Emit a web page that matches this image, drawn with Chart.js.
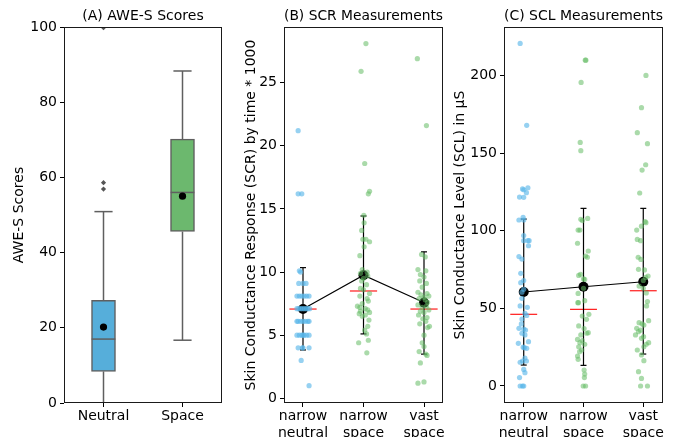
<!DOCTYPE html>
<html><head><meta charset="utf-8">
<script src="https://cdn.jsdelivr.net/npm/chart.js@4.4.1/dist/chart.umd.min.js"></script>
<style>
html,body{margin:0;padding:0;background:#fff;}
#wrap{position:relative;width:678px;height:437px;overflow:hidden;background:#fff;}
canvas{position:absolute;top:0;}
</style></head><body>
<div id="wrap">
<canvas id="cA" width="235" height="437" style="left:0px"></canvas>
<canvas id="cB" width="215" height="437" style="left:235px"></canvas>
<canvas id="cC" width="228" height="437" style="left:450px"></canvas>
</div>
<script>
// ---------- Panel A data (AWE-S box plot) ----------
const awesCategories = ['Neutral', 'Space'];
const awesWhiskerLow = [0, 16.7];
const awesQ1 = [8.4, 45.6];
const awesMedian = [17.0, 56.0];
const awesQ3 = [27.3, 70.2];
const awesWhiskerHigh = [50.9, 88.3];
const awesMean = [20.2, 55.0];
const awesOutliersNeutral = [56.9, 58.6, 99.8];
const awesOutliersSpace = [];
const awesTicks = [0, 20, 40, 60, 80, 100];

// ---------- Panels B/C categories ----------
const condCategories = [['narrow', 'neutral'], ['narrow', 'space'], ['vast', 'space']];

// ---------- Panel B data (SCR) ----------
const scrNarrowNeutral = [21.2, 16.2, 16.2, 10.1, 10.0, 9.1, 9.1, 9.1, 8.1, 8.1, 8.1, 8.1, 8.1, 8.1, 7.1, 7.1, 7.1, 7.1, 7.1, 7.1, 7.1, 7.1, 6.1, 6.1, 6.1, 6.1, 6.1, 6.1, 6.1, 5.0, 5.0, 5.0, 5.0, 5.0, 5.0, 5.0, 4.0, 4.0, 4.0, 4.0, 3.0, 1.0];
const scrNarrowNeutralJitter = [-0.08, -0.08, -0.02, -0.06, -0.04, -0.07, 0.05, 0.0, -0.1, -0.06, -0.02, 0.02, 0.06, 0.1, -0.1, -0.07, -0.04, -0.01, 0.02, 0.05, 0.08, 0.11, -0.08, -0.04, 0.0, 0.04, 0.08, 0.1, -0.1, -0.1, -0.06, -0.02, 0.02, 0.06, 0.1, 0.0, -0.08, -0.01, 0.1, 0.0, -0.03, 0.1];
const scrNarrowSpace = [28.1, 25.9, 18.6, 16.4, 16.2, 14.5, 13.9, 13.3, 12.6, 12.6, 12.4, 12.0, 11.3, 10.2, 10.0, 9.9, 9.7, 9.5, 9.3, 9.0, 8.7, 8.6, 8.3, 8.1, 7.9, 7.7, 7.5, 7.3, 7.2, 7.1, 7.0, 6.9, 6.8, 6.7, 6.6, 6.5, 6.2, 5.7, 5.4, 5.1, 4.6, 4.4, 3.6];
const scrNarrowSpaceJitter = [0.04, -0.04, 0.02, 0.1, 0.08, 0.005, 0.01, -0.03, -0.01, 0.04, 0.1, 0.01, -0.06, -0.02, 0.06, -0.05, 0.07, 0.0, -0.03, 0.05, -0.05, 0.0, 0.1, -0.06, 0.06, 0.08, -0.02, -0.1, -0.06, 0.03, 0.07, -0.05, 0.1, -0.07, 0.03, -0.02, 0.09, 0.07, 0.02, 0.05, 0.08, -0.08, 0.055];
const scrVastSpace = [26.9, 21.6, 11.4, 11.2, 10.2, 10.1, 9.8, 9.6, 9.3, 9.1, 8.8, 8.4, 8.3, 8.2, 8.1, 8.0, 7.9, 7.8, 7.6, 7.4, 7.3, 7.2, 7.0, 6.9, 6.8, 6.6, 6.4, 6.3, 6.1, 5.9, 5.7, 5.6, 5.0, 4.4, 4.1, 3.7, 3.5, 3.4, 2.8, 1.3, 1.2];
const scrVastSpaceJitter = [-0.11, 0.04, -0.04, 0.02, -0.1, 0.03, -0.06, 0.0, -0.07, 0.04, -0.03, -0.1, 0.05, -0.05, 0.08, 0.0, -0.08, 0.02, 0.06, -0.1, 0.04, -0.03, 0.08, -0.06, 0.0, -0.09, 0.05, -0.02, 0.03, -0.07, 0.09, 0.06, 0.0, -0.03, 0.0, -0.08, 0.03, 0.05, -0.06, 0.0, -0.1];
const scrMean = [7.07, 9.75, 7.58];
const scrErrLow = [3.83, 5.1, 3.5];
const scrErrHigh = [10.35, 14.44, 11.6];
const scrMedian = [7.07, 8.5, 7.07];
const scrTicks = [0, 5, 10, 15, 20, 25];

// ---------- Panel C data (SCL) ----------
const sclNarrowNeutral = [220.8, 168, 127.8, 127, 126.5, 124.6, 121.8, 121.6, 108.7, 107, 107, 97, 93.7, 93.7, 93.7, 90.4, 83.4, 81.8, 72.6, 68, 66.6, 62.3, 60.5, 56.5, 51.6, 50.7, 46.8, 45.5, 43.2, 40, 37.2, 36.7, 36.1, 34, 32.9, 28.6, 27.5, 25, 24.7, 24.3, 18, 16.1, 15.3, 16.1, 10.7, 8.6, 5.4, 0, 0, 0];
const sclNarrowNeutralJitter = [-0.06, 0.05, 0.07, -0.02, 0.0, 0.045, -0.07, 0.0, -0.01, -0.08, 0.0, 0.0, 0.0, 0.07, 0.09, 0.08, -0.08, -0.03, -0.05, 0.0, -0.05, 0.0, -0.03, -0.03, -0.06, 0.06, 0.02, 0.05, -0.03, -0.04, -0.08, 0.0, 0.03, -0.03, 0.02, 0.08, -0.09, -0.01, 0.01, 0.05, 0.02, -0.02, -0.06, 0.045, 0.0, 0.02, -0.07, -0.06, -0.02, 0.0];
const sclNarrowSpace = [210, 210, 195.7, 157, 151.7, 108, 107.4, 106.6, 100.5, 100.5, 92, 87, 83.8, 83, 72, 71.3, 69, 68.7, 63, 59.7, 55, 53.7, 53.7, 46.2, 45.1, 43, 38.7, 37, 34.4, 34, 32.9, 30, 29.2, 27.9, 26.9, 25.3, 23.2, 22.1, 19.3, 17.2, 10.3, 7.7, 5.4, 0, 0];
const sclNarrowSpaceJitter = [0.03, 0.04, -0.04, -0.055, -0.045, 0.07, -0.045, -0.02, -0.09, -0.06, -0.1, 0.08, 0.035, 0.065, -0.05, -0.08, 0.0, 0.02, 0.0, -0.09, 0.02, -0.095, -0.085, 0.09, -0.02, 0.05, -0.08, 0.01, 0.08, 0.055, -0.045, -0.1, -0.02, -0.06, 0.02, -0.08, -0.03, -0.065, -0.1, -0.09, 0.01, 0.02, 0.015, -0.005, 0.035];
const sclVastSpace = [200.2, 179.4, 163.3, 156.2, 142.6, 139.2, 124.4, 105.9, 105.3, 103, 100.5, 94.5, 93.7, 83, 81.6, 75.2, 74.8, 70.9, 70, 68, 64.4, 63, 60, 54.4, 51.6, 42.1, 40.8, 40, 39.3, 37.2, 36, 35, 32.9, 31.8, 30.7, 27.9, 26.9, 25.3, 23.2, 20, 16.3, 9.2, 4.9, 0, 0];
const sclVastSpaceJitter = [0.045, -0.03, -0.1, 0.07, 0.04, -0.02, -0.06, 0.03, 0.045, -0.03, -0.11, -0.1, -0.045, -0.085, -0.04, -0.08, 0.02, 0.08, 0.04, 0.0, -0.07, 0.0, 0.05, 0.07, 0.055, 0.09, -0.07, -0.02, 0.01, -0.11, -0.045, -0.08, -0.13, 0.005, -0.03, 0.09, 0.05, 0.01, -0.1, -0.03, 0.01, -0.08, -0.03, -0.045, 0.07];
const sclMean = [60.6, 64.0, 67.2];
const sclErrLow = [13.5, 13.3, 20.6];
const sclErrHigh = [107.6, 114.5, 114.5];
const sclMedian = [46.2, 49.4, 61.4];
const sclTicks = [0, 50, 100, 150, 200];

// ---------- styling ----------
const FONT = 'DejaVu Sans';
const FS = 14;
const TXT = '#000';
const BLUE = 'rgb(86,174,218)';
const GREEN = 'rgb(108,184,110)';
const BLUE_PT = 'rgba(86,180,233,0.62)';
const GREEN_PT = 'rgba(100,188,100,0.55)';
Chart.defaults.font.family = FONT;

const framePlugin = {
  id: 'frame',
  afterDraw(chart) {
    const {ctx, chartArea: a} = chart;
    ctx.save();
    ctx.strokeStyle = '#1a1a1a';
    ctx.lineWidth = 1;
    ctx.strokeRect(Math.round(a.left) + 0.5, Math.round(a.top) + 0.5,
      Math.round(a.right - a.left) - 1, Math.round(a.bottom - a.top) - 1);
    ctx.restore();
  }
};

function seg(x1, y1, x2, y2, color, width, order) {
  return {type: 'scatter', data: [{x: x1, y: y1}, {x: x2, y: y2}], showLine: true,
    borderColor: color, borderWidth: width, pointRadius: 0, order: order};
}

function baseOptions(o) {
  return {
    responsive: false, animation: false, events: [],
    layout: {padding: {left: 0, right: o.padRight, top: 0, bottom: 0}},
    plugins: {
      legend: {display: false}, tooltip: {enabled: false},
      title: {display: true, text: o.title, fullSize: false, color: TXT,
        font: {family: FONT, size: FS, weight: 'normal'}, padding: {top: 7.6, bottom: 2.6}}
    },
    scales: {
      x: {
        type: 'linear', min: o.xMin, max: o.xMax, offset: false,
        afterFit: s => { s.height = 34; },
        afterBuildTicks: s => { s.ticks = o.cats.map((c, i) => ({value: i})); },
        ticks: {callback: v => o.cats[v], color: TXT, font: {family: FONT, size: FS, lineHeight: 1.2},
          padding: 1, maxRotation: 0, minRotation: 0, autoSkip: false},
        grid: {display: true, offset: false, drawOnChartArea: false, drawTicks: true, tickLength: 4, color: '#000', lineWidth: 1},
        border: {display: false}
      },
      y: {
        type: 'linear', min: o.yMin, max: o.yMax,
        afterFit: s => { s.width = o.yWidth; },
        afterBuildTicks: s => { s.ticks = o.yTicks.map(v => ({value: v})); },
        ticks: {callback: v => String(v), color: TXT, font: {family: FONT, size: FS}, padding: 3},
        grid: {display: true, drawOnChartArea: false, drawTicks: true, tickLength: 4, color: '#000', lineWidth: 1},
        border: {display: false},
        title: {display: true, text: o.yTitle, color: TXT, font: {family: FONT, size: FS}, padding: {top: o.yTitlePad, bottom: 0}}
      }
    }
  };
}

// ---------- Panel A ----------
(function () {
  const ds = [];
  const capHalf = 0.115, medHalf = 0.15;
  const EDGE = '#5f5f5f';
  awesCategories.forEach((c, i) => {
    ds.push(seg(i, awesQ3[i], i, awesWhiskerHigh[i], EDGE, 1.5, 5));
    ds.push(seg(i, awesWhiskerLow[i], i, awesQ1[i], EDGE, 1.5, 5));
    ds.push(seg(i - capHalf, awesWhiskerHigh[i], i + capHalf, awesWhiskerHigh[i], EDGE, 1.5, 5));
    ds.push(seg(i - capHalf, awesWhiskerLow[i], i + capHalf, awesWhiskerLow[i], EDGE, 1.5, 5));
    ds.push(seg(i - medHalf, awesMedian[i], i + medHalf, awesMedian[i], EDGE, 1.5, 2));
  });
  ds.push({type: 'bar', data: awesCategories.map((c, i) => ({x: i, y: [awesQ1[i], awesQ3[i]]})),
    backgroundColor: [BLUE, GREEN], borderColor: EDGE, borderWidth: 1.5, borderSkipped: false,
    barThickness: 24, grouped: false, order: 3});
  const outl = [];
  awesOutliersNeutral.forEach(v => outl.push({x: 0, y: v}));
  awesOutliersSpace.forEach(v => outl.push({x: 1, y: v}));
  ds.push({type: 'scatter', data: outl, pointStyle: 'rectRot', pointRadius: 2.6,
    backgroundColor: '#555', borderColor: '#555', borderWidth: 0, clip: 0, order: 1});
  ds.push({type: 'scatter', data: awesMean.map((m, i) => ({x: i, y: m})), pointRadius: 3.6,
    backgroundColor: '#000', borderWidth: 0, order: 0});
  new Chart(document.getElementById('cA'), {
    type: 'scatter', data: {datasets: ds},
    options: baseOptions({title: '(A) AWE-S Scores', yTitle: 'AWE-S Scores', cats: awesCategories,
      xMin: -0.5, xMax: 1.5, yMin: 0, yMax: 100, yTicks: awesTicks, yWidth: 64, yTitlePad: 10.6, padRight: 13}),
    plugins: [framePlugin]
  });
})();

// ---------- Strip panels ----------
function stripPanel(id, groups, jitters, means, lo, hi, med, o) {
  const ds = [];
  const colors = [BLUE_PT, GREEN_PT, GREEN_PT];
  const cap = 0.05, medHalf = 0.225;
  groups.forEach((vals, i) => {
    ds.push({type: 'scatter', data: vals.map((v, k) => ({x: i + jitters[i][k], y: v})),
      backgroundColor: colors[i], borderWidth: 0, pointRadius: 2.6, order: 0});
    ds.push(seg(i - medHalf, med[i], i + medHalf, med[i], '#ff1a1a', 1.2, 3));
    ds.push(seg(i, lo[i], i, hi[i], '#000', 1.2, 2));
    ds.push(seg(i - cap, hi[i], i + cap, hi[i], '#000', 1.2, 2));
    ds.push(seg(i - cap, lo[i], i + cap, lo[i], '#000', 1.2, 2));
  });
  ds.push({type: 'scatter', data: means.map((m, i) => ({x: i, y: m})), showLine: true,
    borderColor: '#000', borderWidth: 1.1, pointRadius: 5, pointBackgroundColor: '#000',
    pointBorderColor: '#000', pointBorderWidth: 0, order: 1});
  new Chart(document.getElementById(id), {
    type: 'scatter', data: {datasets: ds},
    options: baseOptions(Object.assign({cats: condCategories}, o)),
    plugins: [framePlugin]
  });
}

stripPanel('cB', [scrNarrowNeutral, scrNarrowSpace, scrVastSpace],
  [scrNarrowNeutralJitter, scrNarrowSpaceJitter, scrVastSpaceJitter],
  scrMean, scrErrLow, scrErrHigh, scrMedian,
  {title: '(B) SCR Measurements', yTitle: 'Skin Conductance Response (SCR) by time * 1000',
   xMin: -0.314, xMax: 2.314, yMin: -0.372, yMax: 29.41, yTicks: scrTicks, yWidth: 49, yTitlePad: 7.6, padRight: 7});

stripPanel('cC', [sclNarrowNeutral, sclNarrowSpace, sclVastSpace],
  [sclNarrowNeutralJitter, sclNarrowSpaceJitter, sclVastSpaceJitter],
  sclMean, sclErrLow, sclErrHigh, sclMedian,
  {title: '(C) SCL Measurements', yTitle: 'Skin Conductance Level (SCL) in µS',
   xMin: -0.33, xMax: 2.33, yMin: -10.96, yMax: 231.4, yTicks: sclTicks, yWidth: 54, yTitlePad: 2.3, padRight: 15});
</script>
</body></html>
